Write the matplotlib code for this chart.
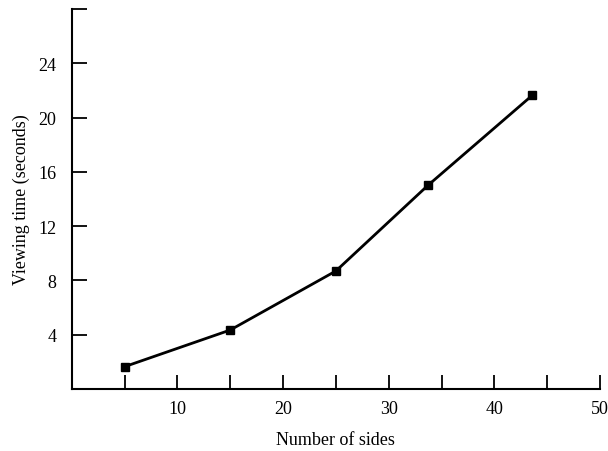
import matplotlib.pyplot as plt

# values
sides = [5, 15, 25, 33.7, 43.6]
view_time = [1.65, 4.35, 8.7, 15.0, 21.65]

x_ticks = [5, 10, 15, 20, 25, 30, 35, 40, 45, 50]
x_labels = ["", "10", "", "20", "", "30", "", "40", "", "50"]
y_ticks = [4, 8, 12, 16, 20, 24, 28]
y_labels = ["4", "8", "12", "16", "20", "24", ""]

plt.rcParams['font.family'] = ['Liberation Serif', 'DejaVu Serif']

fig = plt.figure(figsize=(6.08, 4.52), dpi=100)
ax = fig.add_axes([0.118, 0.137, 0.869, 0.841])

ax.plot(sides, view_time, color="black", lw=2.0, marker="s", ms=6, clip_on=False)

ax.set_xlim(0, 50)
ax.set_ylim(0, 28)
ax.set_xticks(x_ticks)
ax.set_xticklabels(x_labels)
ax.set_yticks(y_ticks)
ax.set_yticklabels(y_labels)

for s in ["top", "right"]:
    ax.spines[s].set_visible(False)
for s in ["left", "bottom"]:
    ax.spines[s].set_linewidth(1.5)

ax.tick_params(axis="x", direction="in", length=10, width=1.3, pad=8, labelsize=13)
ax.tick_params(axis="y", direction="in", length=11, width=1.3, pad=11, labelsize=13)

ax.set_xlabel("Number of sides", fontsize=13, labelpad=10)
ax.set_ylabel("Viewing time (seconds)", fontsize=13, labelpad=6)

fig.savefig("out.png", dpi=100)
